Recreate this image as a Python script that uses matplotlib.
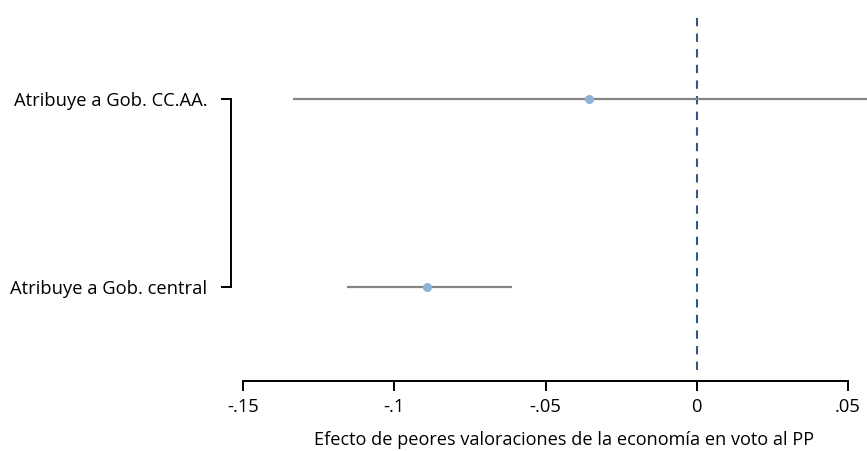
import numpy as np
import matplotlib
matplotlib.use('Agg')
import matplotlib.pyplot as plt

plt.rcParams['font.family'] = ['Open Sans', 'DejaVu Sans']

labels = ['Atribuye a Gob. central', 'Atribuye a Gob. CC.AA.']
coef = [-0.0893, -0.0355]
ci_low = [-0.1155, -0.1335]
ci_high = [-0.0612, 0.0620]

fig = plt.figure(figsize=(8.67, 4.51), dpi=100)
ax = fig.add_axes([243 / 867, 1 - 370 / 451, 624 / 867, 358 / 451])

ypos = np.arange(len(labels))
ax.hlines(ypos, ci_low, ci_high, color='#858585', lw=1.6, zorder=2)
ax.plot(coef, ypos, 'o', color='#8db3da', ms=5.5, zorder=3)
ax.axvline(0, color='#2d5887', lw=1.5, ls=(0, (4, 3.5)), zorder=1)

ax.set_xlim(-0.15, -0.15 + 624 / 3025)
ax.set_ylim(-0.44, 1.46)

ax.set_xticks([-0.15, -0.1, -0.05, 0, 0.05])
ax.set_xticklabels(['-.15', '-.1', '-.05', '0', '.05'])
ax.set_yticks(ypos)
ax.set_yticklabels(labels)

for s in ['top', 'right']:
    ax.spines[s].set_visible(False)
ax.spines['bottom'].set_position(('outward', 8))
ax.spines['bottom'].set_bounds(-0.15, 0.05)
ax.spines['left'].set_position(('outward', 8.6))
ax.spines['left'].set_bounds(0, 1)
for s in ['bottom', 'left']:
    ax.spines[s].set_linewidth(1.4)
    ax.spines[s].set_color('black')

ax.tick_params(axis='x', length=7, width=1.4, pad=5, labelsize=13.2)
ax.tick_params(axis='y', length=7, width=1.4, pad=10, labelsize=13.2)
ax.set_xlabel('Efecto de peores valoraciones de la economía en voto al PP',
              fontsize=13.1, labelpad=11)
ax.xaxis.label.set_x(0.514)

fig.savefig('out.png', dpi=100)
